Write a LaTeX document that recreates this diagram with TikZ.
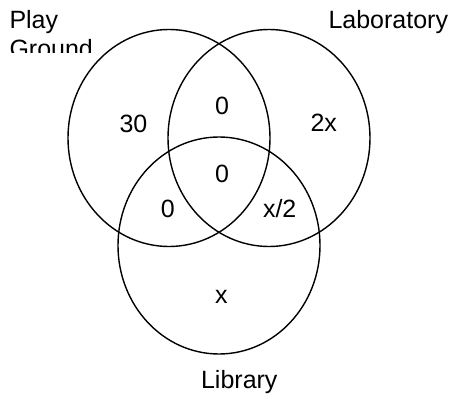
\documentclass[tikz,border=0pt]{standalone}
\usepackage{fontspec}
\setmainfont{Liberation Sans}
\begin{document}
\begin{tikzpicture}[x=1pt,y=1pt,
  setring/.style={draw=black,line width=1.4pt},
  lbl/.style={inner sep=0pt,anchor=base,font=\fontsize{25}{29}\selectfont}]
\useasboundingbox (0,0) rectangle (455,394);
% centres of the three sets
\coordinate (play) at (169,256);
\coordinate (lab)  at (269,256);
\coordinate (lib)  at (219,148.5);
\draw[setring] (play) ellipse [x radius=101, y radius=108.5];
\draw[setring] (lab)  ellipse [x radius=101, y radius=108.5];
\draw[setring] (lib)  ellipse [x radius=101, y radius=108.5];
% set names
\node[lbl,anchor=base west] (nplay) at (9.3,365.7) {Play};
\begin{scope}
  \clip (0,341) rectangle (200,394);
  \node[lbl,anchor=base west] (nground) at (9.3,336.5) {Ground};
\end{scope}
\node[lbl] (nlab) at (388.3,365.7) {Laboratory};
\node[lbl] (nlib) at (239.3,6) {Library};
% region counts
\node[lbl] (r30)  at (133.5,261.7) {30};
\node[lbl] (rpl)  at (222,279) {0};
\node[lbl] (r2x)  at (323.7,262.3) {2x};
\node[lbl] (rall) at (222,211.3) {0};
\node[lbl] (rpb)  at (167.7,176) {0};
\node[lbl] (rlb)  at (279.7,176) {x/2};
\node[lbl] (rx)   at (221.3,91) {x};
\end{tikzpicture}
\end{document}
